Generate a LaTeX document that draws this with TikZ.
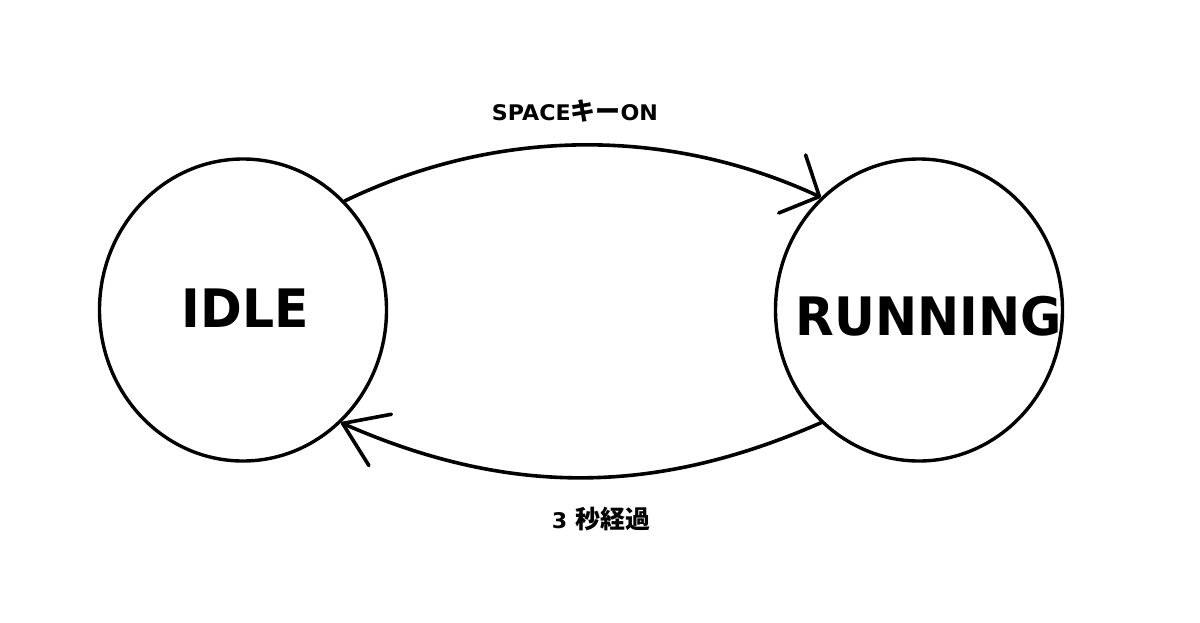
\documentclass[tikz,border=0pt]{standalone}
\usepackage{fontspec}
\usetikzlibrary{arrows.meta,shapes.geometric}
\newfontfamily\bigfont[FakeStretch=0.95]{DejaVu Sans}
\newfontfamily\lblfont[FakeStretch=1.03]{DejaVu Sans}
\newfontfamily\cjk{Noto Sans CJK JP}
\newcommand\jp[1]{{\cjk\bfseries\fontsize{25}{25}\selectfont #1}}
\begin{document}
\begin{tikzpicture}[x=1pt,y=-1pt,
  state/.style={draw=black, line width=3.4pt, ellipse, minimum width=287pt, minimum height=302pt, inner sep=0pt},
  statetext/.style={font=\bigfont\bfseries\fontsize{53}{53}\selectfont, anchor=base, inner sep=0pt},
  edgetext/.style={font=\lblfont\bfseries\fontsize{21.5}{21.5}\selectfont, anchor=base, inner sep=0pt},
  trans/.style={draw=black, line width=3.6pt, line cap=round}]
\fill[white] (0,0) rectangle (1200,622);
\useasboundingbox (0,0) rectangle (1200,622);

\node[state] (idle) at (243,310) {};
\node[state] (running) at (919,310) {};
\node[statetext] (idlet) at (245.5,327) {IDLE};
\node[statetext] (runt) at (929,335) {RUNNING};

\draw[trans, -{Straight Barb[length=30pt,width=64pt,round]}]
  (idle.47) .. controls (498,127) and (669,127) .. (running.131);
\draw[trans, -{Straight Barb[length=41pt,width=56pt,round]}]
  (running.229) .. controls (654,496) and (508,496) .. (idle.311);

\node[edgetext] (lbltop) at (575,120) {SPACE\jp{キー}ON};
\node[edgetext] (lblbot) at (601,528) {3 \jp{秒経過}};
\end{tikzpicture}
\end{document}
